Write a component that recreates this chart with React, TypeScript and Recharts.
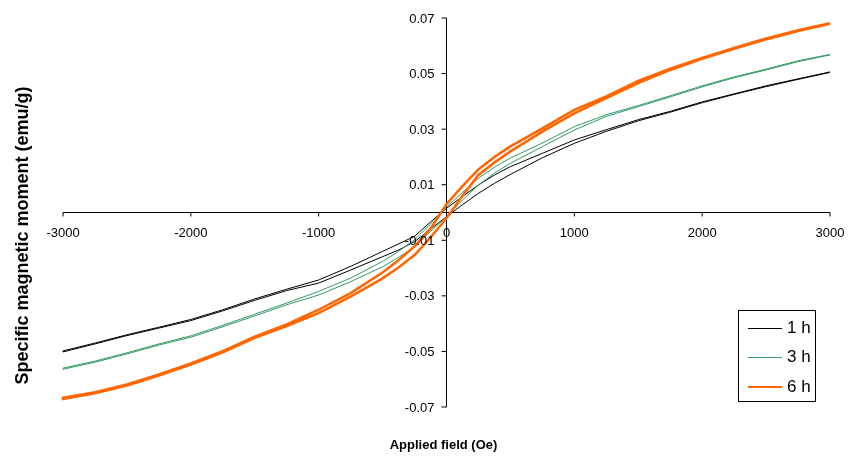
import React from "react";
import { LineChart, Line, XAxis, YAxis, ReferenceLine, Legend } from "recharts";

// Applied field (Oe), ascending order
const field = [-3000, -2750, -2500, -2250, -2000, -1750, -1500, -1250, -1000, -750, -500, -375, -250, -125, 0, 125, 250, 375, 500, 750, 1000, 1250, 1500, 1750, 2000, 2250, 2500, 2750, 3000];

// Specific magnetic moment (emu/g): upper (descending-field) and lower (ascending-field) branches
const h1Upper = [-0.0498, -0.0470, -0.0440, -0.0413, -0.0385, -0.0350, -0.0311, -0.0276, -0.0243, -0.0194, -0.0140, -0.0113, -0.0086, -0.0034, 0.0015, 0.0058, 0.0099, 0.0135, 0.0165, 0.0213, 0.0261, 0.0298, 0.0334, 0.0364, 0.0398, 0.0427, 0.0456, 0.0481, 0.0506];
const h1Lower = [-0.0502, -0.0473, -0.0443, -0.0416, -0.0389, -0.0354, -0.0316, -0.0281, -0.0254, -0.0207, -0.0159, -0.0135, -0.0105, -0.0060, -0.0015, 0.0028, 0.0069, 0.0105, 0.0137, 0.0197, 0.0249, 0.0292, 0.0330, 0.0361, 0.0395, 0.0425, 0.0453, 0.0479, 0.0504];
const h3Upper = [-0.0560, -0.0535, -0.0505, -0.0473, -0.0444, -0.0406, -0.0366, -0.0326, -0.0284, -0.0236, -0.0176, -0.0140, -0.0098, -0.0042, 0.0020, 0.0072, 0.0123, 0.0163, 0.0196, 0.0250, 0.0309, 0.0352, 0.0385, 0.0420, 0.0456, 0.0488, 0.0516, 0.0546, 0.0569];
const h3Lower = [-0.0564, -0.0539, -0.0509, -0.0477, -0.0449, -0.0411, -0.0372, -0.0332, -0.0297, -0.0249, -0.0195, -0.0162, -0.0123, -0.0068, -0.0015, 0.0045, 0.0099, 0.0142, 0.0177, 0.0237, 0.0297, 0.0346, 0.0381, 0.0416, 0.0452, 0.0485, 0.0513, 0.0543, 0.0567];
const h6Upper = [-0.0667, -0.0647, -0.0619, -0.0583, -0.0543, -0.0499, -0.0447, -0.0403, -0.0350, -0.0290, -0.0216, -0.0172, -0.0122, -0.0058, 0.0030, 0.0095, 0.0155, 0.0200, 0.0238, 0.0303, 0.0369, 0.0418, 0.0474, 0.0518, 0.0556, 0.0592, 0.0626, 0.0656, 0.0681];
const h6Lower = [-0.0671, -0.0651, -0.0623, -0.0587, -0.0547, -0.0503, -0.0451, -0.0409, -0.0362, -0.0303, -0.0237, -0.0198, -0.0153, -0.0090, -0.0021, 0.0060, 0.0135, 0.0180, 0.0220, 0.0291, 0.0357, 0.0412, 0.0466, 0.0513, 0.0553, 0.0589, 0.0623, 0.0653, 0.0679];

const xTicks = [-3000, -2000, -1000, 0, 1000, 2000, 3000];
const yTicks = [-0.07, -0.05, -0.03, -0.01, 0.01, 0.03, 0.05, 0.07];

const seriesNames = ["1 h", "3 h", "6 h"];
const seriesColors = ["#000000", "#339966", "#FF6600"];
const seriesWidths = [1, 1, 2.5];

// build a closed loop: descending branch from +Hmax to -Hmax, then ascending branch back
function loop(upper: number[], lower: number[]) {
  const down = field.map((h, i) => ({ h, m: upper[i] })).reverse();
  const up = field.map((h, i) => ({ h, m: lower[i] }));
  return [...down, ...up];
}

const loops = [loop(h1Upper, h1Lower), loop(h3Upper, h3Lower), loop(h6Upper, h6Lower)];

const W = 840;
const H = 449;
const MARGIN = { top: 10, right: 18, left: 0, bottom: 0 };
const Y_AXIS_W = 55;
const X_AXIS_H = 50;
const PLOT_W = W - MARGIN.left - MARGIN.right - Y_AXIS_W;
const PLOT_H = H - MARGIN.top - MARGIN.bottom - X_AXIS_H;
const FONT = "'Liberation Sans', Arial, sans-serif";

const XTick = (props: any) => {
  const { x, y, payload } = props;
  const zy = y - PLOT_H / 2;
  return (
    <g>
      <line x1={x} x2={x} y1={zy} y2={zy + 4} stroke="#000" strokeWidth={1} />
      <text x={x} y={zy + 24} textAnchor="middle" fontSize={13} fill="#000" fontFamily={FONT}>
        {String(payload.value)}
      </text>
    </g>
  );
};

const YTick = (props: any) => {
  const { x, y, payload } = props;
  const zx = x + PLOT_W / 2;
  return (
    <g>
      <line x1={zx - 5} x2={zx} y1={y} y2={y} stroke="#000" strokeWidth={1} />
      <text x={zx - 12} y={y + 4.5} textAnchor="end" fontSize={13} fill="#000" fontFamily={FONT}>
        {Number(payload.value).toFixed(2)}
      </text>
    </g>
  );
};

const YTitle = (props: any) => {
  const vb = props.viewBox || { x: 0, y: 0, width: 0, height: 0 };
  const cx = vb.x + 14;
  const cy = vb.y + vb.height / 2 + 23;
  return (
    <text
      x={cx}
      y={cy}
      transform={`rotate(-90, ${cx}, ${cy})`}
      textAnchor="middle"
      dominantBaseline="central"
      fontSize={18}
      fontWeight="bold"
      fill="#000"
      fontFamily={FONT}
    >
      Specific magnetic moment (emu/g)
    </text>
  );
};

const XTitle = (props: any) => {
  const vb = props.viewBox || { x: 0, y: 0, width: 0, height: 0 };
  const cx = vb.x + vb.width / 2 - 3;
  const cy = vb.y + 42;
  return (
    <text x={cx} y={cy} textAnchor="middle" fontSize={13} fontWeight="bold" fill="#000" fontFamily={FONT}>
      Applied field (Oe)
    </text>
  );
};

const LegendBox = (props: any) => {
  const payload = props.payload || [];
  const rowY = [17, 46, 76];
  return (
    <div
      style={{
        position: "relative",
        width: 76,
        height: 90,
        border: "1px solid #000",
        background: "#fff",
        fontFamily: FONT,
        fontSize: 17,
      }}
    >
      {payload.map((p: any, i: number) => {
        const idx = seriesNames.indexOf(p.value);
        const sw = idx >= 0 ? seriesWidths[idx] : 1;
        return (
          <div key={p.value} style={{ position: "absolute", left: 0, top: rowY[i] - 10, height: 20, width: 76 }}>
            <div
              style={{
                position: "absolute",
                left: 9,
                top: 10 - sw / 2,
                width: 34,
                height: sw,
                background: p.color,
              }}
            />
            <span style={{ position: "absolute", left: 48, top: 0, lineHeight: "20px", color: "#000" }}>{p.value}</span>
          </div>
        );
      })}
    </div>
  );
};

export default function App() {
  return (
    <div style={{ position: "fixed", left: 8, top: 8, width: W, height: H, fontFamily: FONT }}>
      <LineChart width={W} height={H} margin={MARGIN}>
        <XAxis
          type="number"
          dataKey="h"
          domain={[-3000, 3000]}
          ticks={xTicks}
          interval={0}
          height={X_AXIS_H}
          axisLine={false}
          tickLine={false}
          tickSize={0}
          tickMargin={0}
          tick={<XTick />}
          label={<XTitle />}
          allowDuplicatedCategory={false}
        />
        <YAxis
          type="number"
          domain={[-0.07, 0.07]}
          ticks={yTicks}
          interval={0}
          width={Y_AXIS_W}
          axisLine={false}
          tickLine={false}
          tickSize={0}
          tickMargin={0}
          tick={<YTick />}
          label={<YTitle />}
          allowDataOverflow
        />
        <ReferenceLine y={0} stroke="#000" strokeWidth={1} ifOverflow="extendDomain" />
        <ReferenceLine x={0} stroke="#000" strokeWidth={1} ifOverflow="extendDomain" />
        {loops.map((d, i) => (
          <Line
            key={seriesNames[i]}
            data={d}
            dataKey="m"
            name={seriesNames[i]}
            type="linear"
            stroke={seriesColors[i]}
            strokeWidth={seriesWidths[i]}
            dot={false}
            activeDot={false}
            isAnimationActive={false}
          />
        ))}
        <Legend
          content={<LegendBox />}
          layout="vertical"
          align="center"
          verticalAlign="middle"
          wrapperStyle={{ position: "absolute", left: 730, top: 302, width: 78, height: 92 }}
        />
      </LineChart>
    </div>
  );
}
